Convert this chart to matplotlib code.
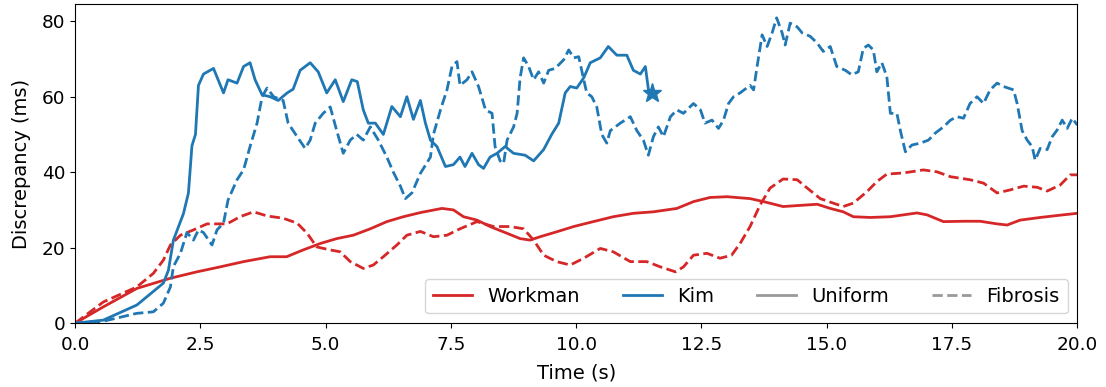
import matplotlib
matplotlib.use("Agg")
import matplotlib.pyplot as plt
from matplotlib.lines import Line2D

# Kim, uniform tissue (solid blue)
kim_uni_t = [0.0, 0.56, 1.23, 1.76, 1.86, 1.96, 2.16, 2.26, 2.33, 2.4, 2.46, 2.56, 2.76, 2.96, 3.05,
             3.23, 3.36, 3.49, 3.59, 3.73, 3.89, 4.05, 4.23, 4.35, 4.49, 4.69, 4.85, 5.02, 5.19,
             5.35, 5.52, 5.63, 5.75, 5.85, 5.99, 6.15, 6.32, 6.49, 6.62, 6.75, 6.89, 6.99, 7.09,
             7.22, 7.39, 7.55, 7.68, 7.78, 7.92, 8.05, 8.15, 8.28, 8.42, 8.58, 8.75, 8.98, 9.15,
             9.35, 9.51, 9.65, 9.78, 9.88, 10.01, 10.15, 10.28, 10.48, 10.64, 10.81, 11.01, 11.14,
             11.28, 11.38, 11.44, 11.51]
kim_uni_v = [0.0, 0.8, 4.8, 10.6, 14.0, 22.0, 29.0, 34.5, 47.0, 50.0, 63.0, 66.0, 67.5, 61.0, 64.5,
             63.6, 68.0, 69.0, 64.5, 60.5, 60.0, 59.0, 61.0, 62.0, 67.0, 69.0, 66.6, 61.0, 64.5,
             58.7, 64.5, 64.0, 56.5, 53.0, 53.0, 50.0, 57.4, 54.7, 60.0, 54.0, 59.0, 53.0, 48.5,
             46.8, 41.5, 42.0, 44.0, 41.5, 45.0, 42.0, 41.0, 44.0, 45.0, 46.8, 45.0, 44.5, 43.0,
             46.0, 50.0, 53.0, 61.0, 62.7, 62.3, 65.0, 69.0, 70.3, 73.3, 71.0, 71.0, 67.0,
             66.0, 68.0, 62.0, 61.0]

# Kim, fibrosis (dashed blue)
kim_fib_t = [0.0, 0.56, 1.23, 1.56, 1.76, 1.9, 1.96, 2.1, 2.23, 2.36, 2.46, 2.56, 2.73, 2.83, 2.96,
             3.05, 3.23, 3.36, 3.49, 3.63, 3.73, 3.83, 3.96, 4.15, 4.25, 4.43, 4.59, 4.69, 4.79,
             4.95, 5.09, 5.22, 5.35, 5.49, 5.62, 5.75, 5.89, 6.05, 6.22, 6.35, 6.49, 6.59, 6.72,
             6.89, 7.09, 7.15, 7.29, 7.42, 7.52, 7.62, 7.68, 7.82, 7.92, 8.05, 8.19, 8.32, 8.38,
             8.48, 8.55, 8.62, 8.75, 8.82, 8.88, 8.95, 9.05, 9.15, 9.25, 9.35, 9.45, 9.58, 9.75,
             9.85, 9.95, 10.05, 10.15, 10.21, 10.31, 10.41, 10.51, 10.61, 10.68, 10.88, 11.08,
             11.21, 11.34, 11.44, 11.54, 11.64, 11.74, 11.88, 12.01, 12.14, 12.34, 12.48, 12.57,
             12.71, 12.84, 12.94, 13.04, 13.14, 13.27, 13.47, 13.54, 13.61, 13.71, 13.81, 13.91,
             14.0, 14.11, 14.17, 14.27, 14.41, 14.51, 14.67, 14.81, 14.93, 15.07, 15.2, 15.37,
             15.5, 15.63, 15.73, 15.83, 15.93, 16.0, 16.1, 16.2, 16.27, 16.4, 16.47, 16.57, 16.7,
             16.87, 17.03, 17.17, 17.33, 17.47, 17.6, 17.73, 17.86, 18.0, 18.13, 18.26, 18.4,
             18.53, 18.73, 18.8, 18.9, 19.0, 19.1, 19.16, 19.26, 19.4, 19.5, 19.6, 19.7, 19.8,
             19.9, 20.0]
kim_fib_v = [0.0, 0.5, 2.6, 3.0, 5.3, 9.6, 15.0, 18.5, 24.0, 22.0, 24.7, 24.0, 20.7, 24.7, 26.5,
             32.6, 38.0, 40.6, 46.8, 53.0, 60.0, 62.3, 60.0, 59.0, 53.0, 49.4, 46.3, 48.5, 53.0,
             55.6, 57.3, 51.0, 45.0, 48.5, 50.0, 48.5, 52.0, 48.5, 44.0, 40.0, 36.3, 33.0, 34.5,
             39.7, 44.0, 50.0, 56.5, 61.8, 68.0, 69.3, 63.0, 64.5, 66.6, 62.7, 56.5, 55.6, 46.8,
             43.0, 42.3, 48.5, 52.0, 55.6, 65.0, 70.3, 68.0, 64.5, 66.6, 63.6, 67.0, 67.5, 69.8,
             72.4, 70.3, 70.6, 64.5, 61.0, 60.0, 57.3, 50.0, 47.7, 51.0, 53.0, 54.7,
             51.0, 48.5, 44.5, 49.4, 52.0, 49.4, 54.7, 56.5, 55.6, 58.2, 56.5, 53.0,
             53.8, 51.6, 53.8, 58.2, 60.0, 61.0, 63.0, 61.8, 68.0, 76.4, 73.3, 76.9,
             80.9, 76.9, 73.7, 79.5, 78.5, 76.9, 76.0, 74.2, 72.0, 73.3, 68.0, 67.0,
             65.8, 66.6, 72.8, 73.7, 72.4, 66.6, 69.0, 65.3, 55.6, 55.6, 51.0, 45.4, 47.2,
             47.7, 48.5, 50.4, 52.0, 53.8, 54.7, 54.3, 58.2, 60.0, 58.2, 61.8, 63.6,
             62.7, 61.8, 58.2, 51.0, 48.5, 46.8, 43.2, 46.3, 46.0, 49.4, 51.2, 53.8, 51.6,
             54.3, 52.5]

# Workman, uniform tissue (solid red)
wk_uni_t = [0.0, 0.56, 1.23, 1.9, 2.43, 2.89, 3.36, 3.89, 4.22, 4.55, 4.89, 5.22, 5.55, 5.89,
            6.22, 6.55, 6.89, 7.32, 7.55, 7.75, 8.02, 8.28, 8.62, 8.88, 9.08, 9.28, 9.61, 9.95,
            10.34, 10.74, 11.14, 11.54, 12.01, 12.34, 12.67, 13.01, 13.47, 13.74, 14.13, 14.81,
            15.07, 15.33, 15.53, 15.87, 16.27, 16.8, 17.0, 17.33, 17.73, 18.06, 18.4, 18.6,
            18.86, 19.26, 19.72, 20.0]
wk_uni_v = [0.0, 4.3, 9.2, 11.9, 13.6, 14.9, 16.3, 17.6, 17.6, 19.4, 21.1, 22.4, 23.3, 25.0,
            26.9, 28.2, 29.3, 30.4, 30.0, 28.2, 27.3, 25.6, 23.8, 22.4, 22.0, 22.9, 24.2, 25.6,
            26.9, 28.2, 29.1, 29.5, 30.4, 32.2, 33.3, 33.5, 33.0, 32.2, 30.9, 31.5,
            30.4, 29.5, 28.2, 28.0, 28.2, 29.2, 28.7, 26.9, 27.0, 27.0, 26.3, 26.0,
            27.3, 28.0, 28.7, 29.1]

# Workman, fibrosis (dashed red)
wk_fib_t = [0.0, 0.56, 1.23, 1.56, 1.76, 1.9, 2.1, 2.36, 2.63, 3.03, 3.29, 3.56, 3.83, 4.15,
            4.43, 4.63, 4.82, 5.09, 5.29, 5.49, 5.75, 5.95, 6.15, 6.42, 6.62, 6.89, 7.15, 7.42,
            7.68, 8.02, 8.35, 8.68, 8.95, 9.15, 9.35, 9.61, 9.88, 10.15, 10.48, 10.74, 11.08,
            11.41, 11.68, 11.98, 12.14, 12.34, 12.61, 12.87, 13.1, 13.27, 13.47, 13.67, 13.87,
            14.13, 14.41, 14.61, 14.87, 15.13, 15.33, 15.53, 15.8, 16.0, 16.2, 16.53, 16.93,
            17.2, 17.47, 17.86, 18.13, 18.4, 18.66, 18.93, 19.2, 19.4, 19.66, 19.86, 20.0]
wk_fib_v = [0.0, 5.6, 9.6, 13.2, 16.7, 20.7, 23.3, 24.7, 26.3, 26.3, 28.2, 29.5, 28.4, 27.8,
            26.5, 23.8, 20.2, 19.4, 18.9, 16.3, 14.5, 15.4, 17.6, 20.7, 23.3, 24.3, 22.9, 23.3,
            25.0, 26.9, 25.6, 25.6, 25.0, 22.0, 18.0, 16.3, 15.4, 17.2, 19.8, 18.9, 16.3,
            16.3, 14.9, 13.6, 14.9, 18.0, 18.5, 17.2, 18.0, 21.1, 25.6, 31.3, 35.8,
            38.2, 38.0, 35.8, 33.0, 31.8, 30.9, 31.8, 34.8, 37.5, 39.5, 39.8, 40.6,
            40.1, 38.8, 38.0, 37.1, 34.5, 35.3, 36.3, 36.0, 35.0, 36.6, 39.3, 39.3]

red = "#d62728"
blue = "#1f77b4"

plt.rcParams["font.size"] = 14
plt.rcParams["xtick.labelsize"] = 13.3
plt.rcParams["ytick.labelsize"] = 13.3
plt.rcParams["xtick.major.pad"] = 5.5
fig = plt.figure(figsize=(11.06, 3.87), dpi=100)
ax = fig.add_axes([0.068, 0.165, 0.906, 0.825])

ax.plot(wk_uni_t, wk_uni_v, color=red, lw=2)
ax.plot(wk_fib_t, wk_fib_v, color=red, lw=2, ls="--")
ax.plot(kim_uni_t, kim_uni_v, color=blue, lw=2)
ax.plot(kim_fib_t, kim_fib_v, color=blue, lw=2, ls="--")
ax.plot(kim_uni_t[-1], kim_uni_v[-1], marker="*", color=blue, markersize=14)

ax.set_xlim(0, 20)
ax.set_ylim(0, 84.6)
ax.set_xticks([0, 2.5, 5, 7.5, 10, 12.5, 15, 17.5, 20])
ax.set_xticklabels(["0.0", "2.5", "5.0", "7.5", "10.0", "12.5", "15.0", "17.5", "20.0"])
ax.set_yticks([0, 20, 40, 60, 80])
ax.set_xlabel("Time (s)", labelpad=7)
ax.set_ylabel("Discrepancy (ms)", labelpad=8)

handles = [Line2D([], [], color=red, lw=2),
           Line2D([], [], color=blue, lw=2),
           Line2D([], [], color="#999999", lw=2),
           Line2D([], [], color="#999999", lw=2, ls="--")]
ax.legend(handles, ["Workman", "Kim", "Uniform", "Fibrosis"], loc="lower right", ncol=4,
          fontsize=14, borderaxespad=0.5, columnspacing=2.2)

fig.savefig("out.png", dpi=100)
